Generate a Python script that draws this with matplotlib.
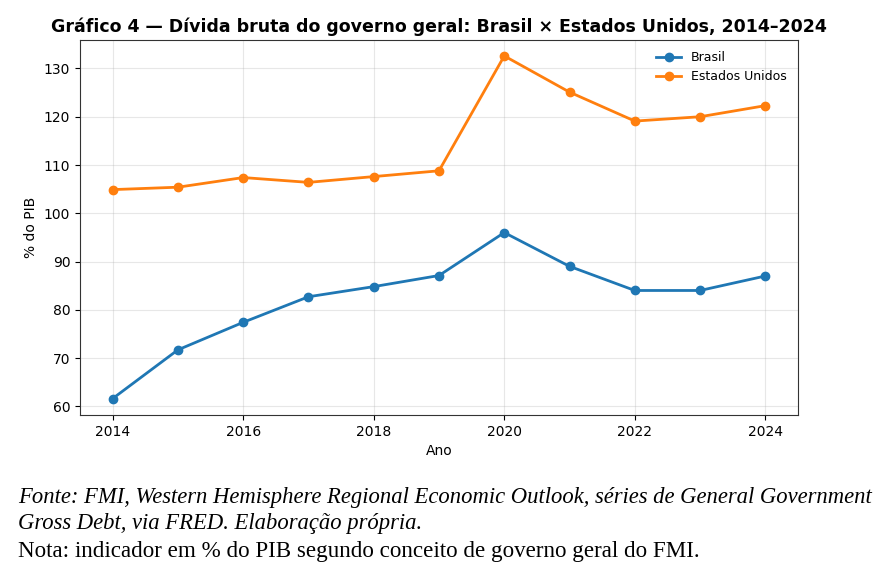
import matplotlib.pyplot as plt

anos = [2014, 2015, 2016, 2017, 2018, 2019, 2020, 2021, 2022, 2023, 2024]
brasil = [61.6, 71.7, 77.4, 82.7, 84.8, 87.1, 96.0, 89.0, 84.0, 84.0, 87.0]
eua = [104.9, 105.4, 107.4, 106.4, 107.6, 108.8, 132.6, 125.1, 119.1, 120.0, 122.3]

titulo = "Gráfico 4 — Dívida bruta do governo geral: Brasil × Estados Unidos, 2014–2024"
fonte_1 = "Fonte: FMI, Western Hemisphere Regional Economic Outlook, séries de General Government"
fonte_2 = "Gross Debt, via FRED. Elaboração própria."
nota = "Nota: indicador em % do PIB segundo conceito de governo geral do FMI."

fig = plt.figure(figsize=(8.95, 5.7), dpi=100)
ax = fig.add_axes([80 / 895, 1 - 415 / 570, 718 / 895, 375 / 570])

ax.plot(anos, brasil, marker='o', color='#1f77b4', linewidth=2, markersize=6, label='Brasil')
ax.plot(anos, eua, marker='o', color='#ff7f0e', linewidth=2, markersize=6, label='Estados Unidos')

ax.set_xlim(2013.5, 2024.5)
ax.set_ylim(58.2, 135.9)
ax.set_xticks([2014, 2016, 2018, 2020, 2022, 2024])
ax.set_yticks([60, 70, 80, 90, 100, 110, 120, 130])
ax.grid(True, alpha=0.3)
ax.set_xlabel("Ano")
ax.set_ylabel("% do PIB")
for s in ax.spines.values():
    s.set_color('#333333')
ax.legend(loc='upper right', frameon=False, fontsize=9)

fig.text(0.49, 1 - 27 / 570, titulo, ha='center', va='center', fontsize=12.5, fontweight='bold')

# rodapé estilo documento (Times)
serif = 'Liberation Serif'
fig.text(18 / 895, 1 - 497 / 570, fonte_1, ha='left', va='center', fontsize=16.25, style='italic', family=serif)
fig.text(18 / 895, 1 - 523 / 570, fonte_2, ha='left', va='center', fontsize=16.25, style='italic', family=serif)
fig.text(18 / 895, 1 - 551 / 570, nota, ha='left', va='center', fontsize=16.6, family=serif)

fig.savefig("out.png", dpi=100)
